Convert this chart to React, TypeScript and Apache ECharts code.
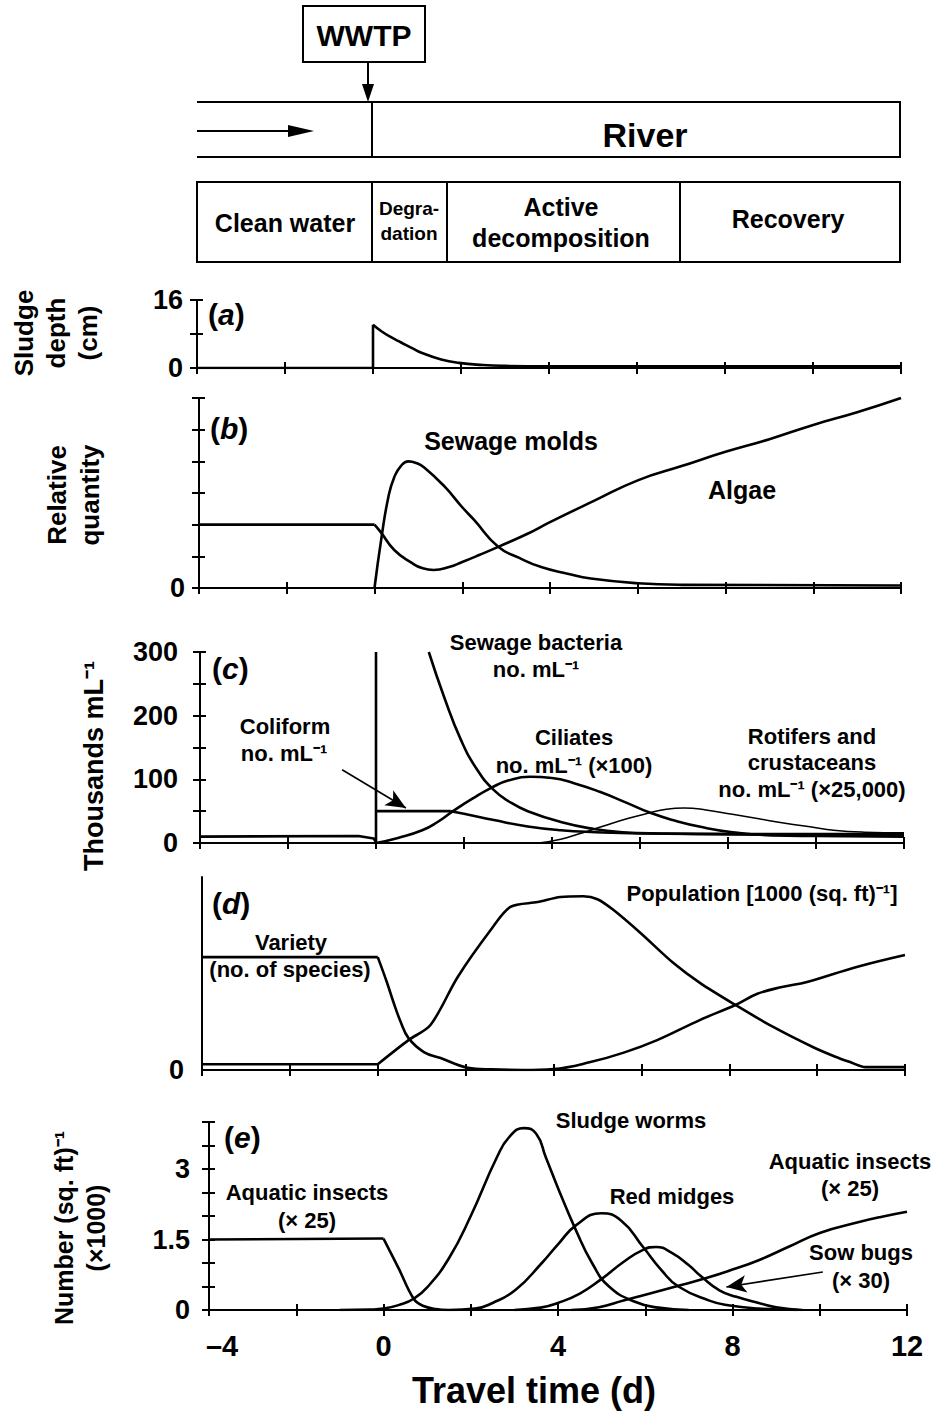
import React, { useEffect, useRef } from "react";
import * as echarts from "echarts";

type P = [number, number];

// ---------- axis ticks / labels ----------
const xLabelValues = [-4, 0, 4, 8, 12];
const sludgeTickLabels = [0, 16];
const relativeTickLabels = [0];
const thousandsTickLabels = [0, 100, 200, 300];
const communityTickLabels = [0];
const numberTickLabels = [0, 1.5, 3];

// ---------- (a) sludge depth (cm) ----------
const sludgeStep: P[] = [[-4, 0], [0, 0], [0, 10.2]];
const sludgeDecay: P[] = [[0, 10.2], [0.2, 8.6], [0.4, 7.3], [0.64, 6.0], [0.9, 4.6], [1.1, 3.6], [1.55, 2.0], [1.95, 1.2], [2.5, 0.7], [3, 0.5], [4, 0.4], [12, 0.4]];

// ---------- (b) relative quantity ----------
const algaeClean: P[] = [[-4, 2], [0, 2]];
const algae: P[] = [[0, 2], [0.15, 1.75], [0.45, 1.2], [0.84, 0.8], [1.1, 0.62], [1.35, 0.57], [1.7, 0.66], [2.0, 0.82], [2.4, 1.05], [2.82, 1.3], [3.5, 1.72], [4, 2.08], [5, 2.75], [6, 3.4], [7, 3.85], [8, 4.3], [9, 4.7], [10, 5.15], [11, 5.55], [12, 6.0]];
const sewageMolds: P[] = [[0, 0], [0.16, 1.6], [0.32, 2.9], [0.45, 3.5], [0.6, 3.85], [0.77, 4.0], [0.95, 3.95], [1.14, 3.8], [1.6, 3.2], [2.0, 2.55], [2.27, 2.15], [2.82, 1.3], [3.3, 0.95], [3.8, 0.66], [4.4, 0.45], [4.93, 0.3], [6, 0.15], [7, 0.1], [12, 0.08]];

// ---------- (c) thousands per mL ----------
const bacteriaClean: P[] = [[-4, 10], [-0.4, 11], [-0.05, 7], [0, 1], [0, 300]];
const sewageBacteria: P[] = [[1.2, 300], [1.55, 229], [1.93, 162], [2.3, 115], [2.68, 83], [3.05, 64], [3.45, 50], [4.2, 33], [4.95, 22], [5.6, 17], [6.5, 15], [8, 14], [10, 14], [12, 14]];
const coliformFlat: P[] = [[0, 50], [1.7, 50]];
const coliform: P[] = [[1.7, 50], [2.0, 46], [2.68, 36], [3.45, 26], [4.2, 20], [5, 17], [6, 15], [8, 14], [10, 13], [12, 13]];
const ciliates: P[] = [[0, 0], [0.5, 8], [1.05, 20], [1.4, 33], [1.75, 50], [2.2, 70], [2.63, 87], [3.0, 98], [3.5, 104], [4.0, 102], [4.5, 94], [5.1, 80], [5.7, 63], [6.25, 47], [6.8, 35], [7.4, 25], [8.1, 17], [9, 12], [10, 11], [12, 10]];
const rotifers: P[] = [[3.7, 0], [4.2, 6], [4.6, 14], [5.1, 25], [5.7, 38], [6.2, 47], [6.6, 53], [7.0, 55], [7.5, 52], [8.1, 45], [8.7, 38], [9.3, 31], [9.9, 25], [10.4, 20], [11.1, 17], [12, 16]];
const coliformArrow: P[] = [[-0.77, 115], [0.68, 55]];

// ---------- (d) community ----------
const varietyClean: P[] = [[-4, 5.85], [0, 5.85]];
const variety: P[] = [[0, 5.85], [0.2, 4.6], [0.36, 3.5], [0.52, 2.5], [0.7, 1.65], [1.05, 0.93], [1.43, 0.62], [2.05, 0.12], [2.6, 0.03], [3.3, 0.0], [4.0, 0.05], [4.84, 0.41], [5.6, 0.9], [6.36, 1.55], [7.34, 2.6], [8.14, 3.37], [8.64, 3.95], [9.2, 4.3], [9.77, 4.56], [10.9, 5.34], [12, 5.96]];
const populationClean: P[] = [[-4, 0.3], [0, 0.3]];
const population: P[] = [[0, 0.3], [0.7, 1.55], [1.2, 2.33], [1.82, 4.82], [2.57, 7.25], [3.02, 8.45], [3.64, 8.7], [4.16, 8.96], [4.68, 9.0], [5.0, 8.85], [5.36, 8.3], [5.98, 7.1], [6.73, 5.54], [7.34, 4.5], [8.14, 3.37], [9.0, 2.23], [9.9, 1.19], [10.4, 0.7], [10.75, 0.41], [11.1, 0.15], [12, 0.15]];

// ---------- (e) number (sq. ft)^-1 (x1000) ----------
const insectsClean: P[] = [[-4, 1.5], [0, 1.52]];
const insectsDrop: P[] = [[0, 1.52], [0.35, 0.88], [0.69, 0.24], [0.9, 0.09], [1.2, 0.02], [1.5, 0]];
const sludgeWorms: P[] = [[-1, 0], [-0.3, 0.01], [0, 0.03], [0.4, 0.12], [0.69, 0.24], [1.0, 0.48], [1.5, 1.1], [2.0, 2.0], [2.6, 3.25], [2.9, 3.7], [3.22, 3.87], [3.5, 3.75], [3.72, 3.25], [4.02, 2.55], [4.41, 1.7], [4.78, 1.0], [5.17, 0.5], [5.78, 0.17], [6.3, 0.05], [7, 0]];
const redMidges: P[] = [[1.5, 0], [2.1, 0.03], [2.5, 0.15], [3.03, 0.43], [3.63, 1.0], [4.02, 1.42], [4.41, 1.8], [4.99, 2.06], [5.45, 1.9], [5.95, 1.34], [6.37, 0.85], [6.76, 0.5], [7.47, 0.2], [7.9, 0.1], [8.6, 0.03], [9.5, 0]];
const sowBugs: P[] = [[3, 0], [3.6, 0.05], [4.0, 0.15], [4.5, 0.35], [4.97, 0.64], [5.5, 1.02], [5.95, 1.28], [6.25, 1.34], [6.6, 1.22], [7.0, 0.95], [7.3, 0.7], [7.7, 0.42], [8.09, 0.28], [8.6, 0.15], [9.0, 0.06], [9.6, 0]];
const insectsRecovery: P[] = [[4.3, 0], [4.94, 0.06], [5.5, 0.2], [5.98, 0.32], [6.7, 0.5], [7.4, 0.68], [8.0, 0.86], [8.6, 1.06], [9.3, 1.35], [10.0, 1.64], [10.9, 1.87], [11.4, 1.98], [12, 2.09]];
const sowBugsArrow: P[] = [[10.07, 0.81], [7.86, 0.49]];

// ---------- layout ----------
const FONT = '"Liberation Sans", Arial, Helvetica, sans-serif';
const panels = [
  { left: 197, width: 704, top: 300, height: 68, yMin: 0, yMax: 16, yInt: 8, labels: sludgeTickLabels, ticks: true, margin: 14 },
  { left: 199, width: 702, top: 398, height: 190, yMin: 0, yMax: 6, yInt: 1, labels: relativeTickLabels, ticks: true, margin: 14 },
  { left: 200, width: 704, top: 652, height: 191, yMin: 0, yMax: 300, yInt: 50, labels: thousandsTickLabels, ticks: true, margin: 22 },
  { left: 202, width: 703, top: 877, height: 193, yMin: 0, yMax: 10, yInt: 10, labels: communityTickLabels, ticks: false, margin: 18 },
  { left: 209, width: 698, top: 1122, height: 188, yMin: 0, yMax: 4, yInt: 0.5, labels: numberTickLabels, ticks: true, margin: 19 },
];

function curve(data: P[], g: number, smooth: number | false = 0.4, width = 2.6, extra: any = {}) {
  return {
    type: "line",
    xAxisIndex: g * 2,
    yAxisIndex: g * 2,
    data,
    symbol: "none",
    showSymbol: false,
    smooth: smooth === false ? false : smooth,
    lineStyle: { color: "#000", width },
    silent: true,
    z: 5,
    ...extra,
  };
}

function arrowLine(pts: P[]) {
  return {
    silent: true,
    symbol: ["none", "arrow"],
    symbolSize: [13, 20],
    lineStyle: { color: "#000", width: 1.6, type: "solid" },
    itemStyle: { color: "#000" },
    label: { show: false },
    emphasis: { disabled: true },
    data: [[{ coord: pts[0] }, { coord: pts[1] }]],
  };
}

function txt(text: string, x: number, y: number, size: number, extra: any = {}) {
  return {
    type: "text",
    x,
    y,
    silent: true,
    style: {
      text,
      fill: "#000",
      fontSize: size,
      fontWeight: "bold",
      fontFamily: FONT,
      align: "center",
      verticalAlign: "middle",
      ...extra,
    },
  };
}

function vtxt(text: string, x: number, y: number, size: number, lineHeight: number) {
  return {
    type: "text",
    x,
    y,
    rotation: Math.PI / 2,
    silent: true,
    style: {
      text,
      fill: "#000",
      fontSize: size,
      fontWeight: "bold",
      fontFamily: FONT,
      align: "center",
      verticalAlign: "middle",
      lineHeight,
    },
  };
}

function panelTag(letter: string, x: number, y: number) {
  return {
    type: "text",
    x,
    y,
    silent: true,
    style: {
      text: `{p|(}{i|${letter}}{p|)}`,
      align: "left",
      verticalAlign: "middle",
      rich: {
        p: { fontSize: 30, fontWeight: "bold", fontFamily: FONT, fill: "#000", color: "#000" },
        i: { fontSize: 30, fontWeight: "bold", fontStyle: "italic", fontFamily: FONT, fill: "#000", color: "#000" },
      },
    },
  };
}

function ln(x1: number, y1: number, x2: number, y2: number, w = 2) {
  return { type: "line", silent: true, shape: { x1, y1, x2, y2 }, style: { stroke: "#000", lineWidth: w } };
}

function poly(points: number[][]) {
  return { type: "polygon", silent: true, shape: { points }, style: { fill: "#000" } };
}

function rect(x: number, y: number, width: number, height: number) {
  return { type: "rect", silent: true, shape: { x, y, width, height }, style: { fill: "#fff", stroke: "#000", lineWidth: 2 } };
}

const annotations: [string, number, number, number][] = [
  ["Sewage molds", 511, 441, 25],
  ["Algae", 742, 490, 25],
  ["Sewage bacteria", 536, 642, 22],
  ["no. mL⁻¹", 536, 669, 22],
  ["Coliform", 285, 726, 22],
  ["no. mL⁻¹", 284, 753, 22],
  ["Ciliates", 574, 737, 22],
  ["no. mL⁻¹ (×100)", 574, 765, 22],
  ["Rotifers and", 812, 736, 22],
  ["crustaceans", 812, 762, 22],
  ["no. mL⁻¹ (×25,000)", 812, 789, 22],
  ["Population [1000 (sq. ft)⁻¹]", 762, 893, 22],
  ["Variety", 291, 942, 22],
  ["(no. of species)", 290, 969, 22],
  ["Sludge worms", 631, 1120, 22],
  ["Red midges", 672, 1196, 22],
  ["Aquatic insects", 850, 1161, 22],
  ["(× 25)", 850, 1188, 22],
  ["Sow bugs", 861, 1252, 22],
  ["(× 30)", 861, 1280, 22],
  ["Aquatic insects", 307, 1192, 22],
  ["(× 25)", 307, 1220, 22],
];

function buildOption() {
  const grid = panels.map((p) => ({ left: p.left, width: p.width, top: p.top, height: p.height, containLabel: false }));

  const xAxis: any[] = [];
  const yAxis: any[] = [];
  panels.forEach((p, i) => {
    const tickStyle = { color: "#000", width: 2 };
    xAxis.push({
      type: "value", gridIndex: i, min: -4, max: 12, interval: 2, position: "bottom",
      axisLine: { show: true, onZero: false, lineStyle: { color: "#000", width: 2 } },
      axisTick: { show: true, inside: true, length: 6, lineStyle: tickStyle },
      axisLabel: { show: false }, splitLine: { show: false },
    });
    xAxis.push({
      type: "value", gridIndex: i, min: -4, max: 12, interval: 2, position: "bottom",
      axisLine: { show: false, onZero: false },
      axisTick: { show: true, inside: false, length: 6, lineStyle: tickStyle },
      axisLabel: {
        show: i === 4, margin: 21, fontSize: 29, fontWeight: "bold", color: "#000", fontFamily: FONT,
        formatter: (v: number) => (xLabelValues.includes(v) ? (v < 0 ? `{s|–${Math.abs(v)}}` : String(v)) : ""),
        rich: { s: { fontSize: 29, fontWeight: "bold", color: "#000", fontFamily: FONT, padding: [0, 0, 0, 26] } },
      },
      splitLine: { show: false },
    });
    yAxis.push({
      type: "value", gridIndex: i, min: p.yMin, max: p.yMax, interval: p.yInt, position: "left",
      axisLine: { show: true, onZero: false, lineStyle: { color: "#000", width: 2 } },
      axisTick: { show: p.ticks, inside: true, length: 6, lineStyle: tickStyle },
      axisLabel: { show: false }, splitLine: { show: false },
    });
    yAxis.push({
      type: "value", gridIndex: i, min: p.yMin, max: p.yMax, interval: p.yInt, position: "left",
      axisLine: { show: false, onZero: false },
      axisTick: { show: p.ticks, inside: false, length: 7, lineStyle: tickStyle },
      axisLabel: {
        show: true, margin: p.margin, fontSize: 27, fontWeight: "bold", color: "#000", fontFamily: FONT,
        formatter: (v: number) => (p.labels.some((l) => Math.abs(l - v) < 1e-9) ? String(v) : ""),
      },
      splitLine: { show: false },
    });
  });

  const series: any[] = [
    // (a)
    curve(sludgeStep, 0, false, 2.6),
    curve(sludgeDecay, 0, 0.5, 2.6),
    // (b)
    curve(algaeClean, 1, false, 2.6),
    curve(algae, 1, 0.5, 2.6),
    curve(sewageMolds, 1, 0.5, 2.6),
    // (c)
    curve(bacteriaClean, 2, false, 2.6),
    curve(sewageBacteria, 2, 0.5, 2.6),
    curve(coliformFlat, 2, false, 2.6, { markLine: arrowLine(coliformArrow) }),
    curve(coliform, 2, 0.5, 2.6),
    curve(ciliates, 2, 0.5, 2.6),
    curve(rotifers, 2, 0.5, 1.5),
    // (d)
    curve(varietyClean, 3, false, 2.6),
    curve(variety, 3, 0.4, 2.6),
    curve(populationClean, 3, false, 2.6),
    curve(population, 3, 0.3, 2.6),
    // (e)
    curve(insectsClean, 4, false, 2.6),
    curve(insectsDrop, 4, 0.4, 2.6),
    curve(sludgeWorms, 4, 0.5, 2.6),
    curve(redMidges, 4, 0.5, 2.6),
    curve(sowBugs, 4, 0.5, 2.6, { markLine: arrowLine(sowBugsArrow) }),
    curve(insectsRecovery, 4, 0.5, 2.6),
  ];

  const graphic: any[] = [
    // WWTP outfall
    rect(303, 6, 122, 56),
    txt("WWTP", 364, 35, 30),
    ln(368, 62, 368, 88),
    poly([[362, 84], [374, 84], [368, 102]]),
    // river channel
    ln(197, 102, 900, 102),
    ln(197, 157, 900, 157),
    ln(372, 102, 372, 157),
    ln(900, 101, 900, 158),
    ln(197, 131, 292, 131),
    poly([[288, 125], [288, 137], [314, 131]]),
    txt("River", 645, 135, 34),
    // stages
    rect(197, 182, 703, 80),
    ln(372, 182, 372, 262),
    ln(447, 182, 447, 262),
    ln(680, 182, 680, 262),
    txt("Clean water", 285, 223, 25),
    txt("Degra-", 409, 208, 19),
    txt("dation", 409, 233, 19),
    txt("Active", 561, 207, 25),
    txt("decomposition", 561, 238, 25),
    txt("Recovery", 788, 219, 25),
    // axis titles
    vtxt("Sludge\ndepth\n(cm)", 56, 333, 26, 32),
    vtxt("Relative\nquantity", 73, 495, 26, 33),
    vtxt("Thousands mL⁻¹", 94, 766, 27, 30),
    vtxt("Number (sq. ft)⁻¹\n(×1000)", 80, 1228, 25, 32),
    txt("Travel time (d)", 534, 1390, 36),
    // panel tags
    panelTag("a", 208, 314),
    panelTag("b", 210, 428),
    panelTag("c", 212, 668),
    panelTag("d", 212, 903),
    panelTag("e", 224, 1137),
    ...annotations.map(([t, x, y, s]) => txt(t, x, y, s)),
  ];

  return {
    animation: false,
    backgroundColor: "#fff",
    grid,
    xAxis,
    yAxis,
    series,
    graphic,
  };
}

export default function App() {
  const ref = useRef<HTMLDivElement>(null);
  useEffect(() => {
    if (!ref.current) return;
    const chart = echarts.init(ref.current, null, { renderer: "svg" });
    chart.setOption(buildOption() as any);
    return () => chart.dispose();
  }, []);
  return (
    <div
      ref={ref}
      style={{ position: "absolute", left: 0, top: 0, width: 932, height: 1412, background: "#fff" }}
    />
  );
}
